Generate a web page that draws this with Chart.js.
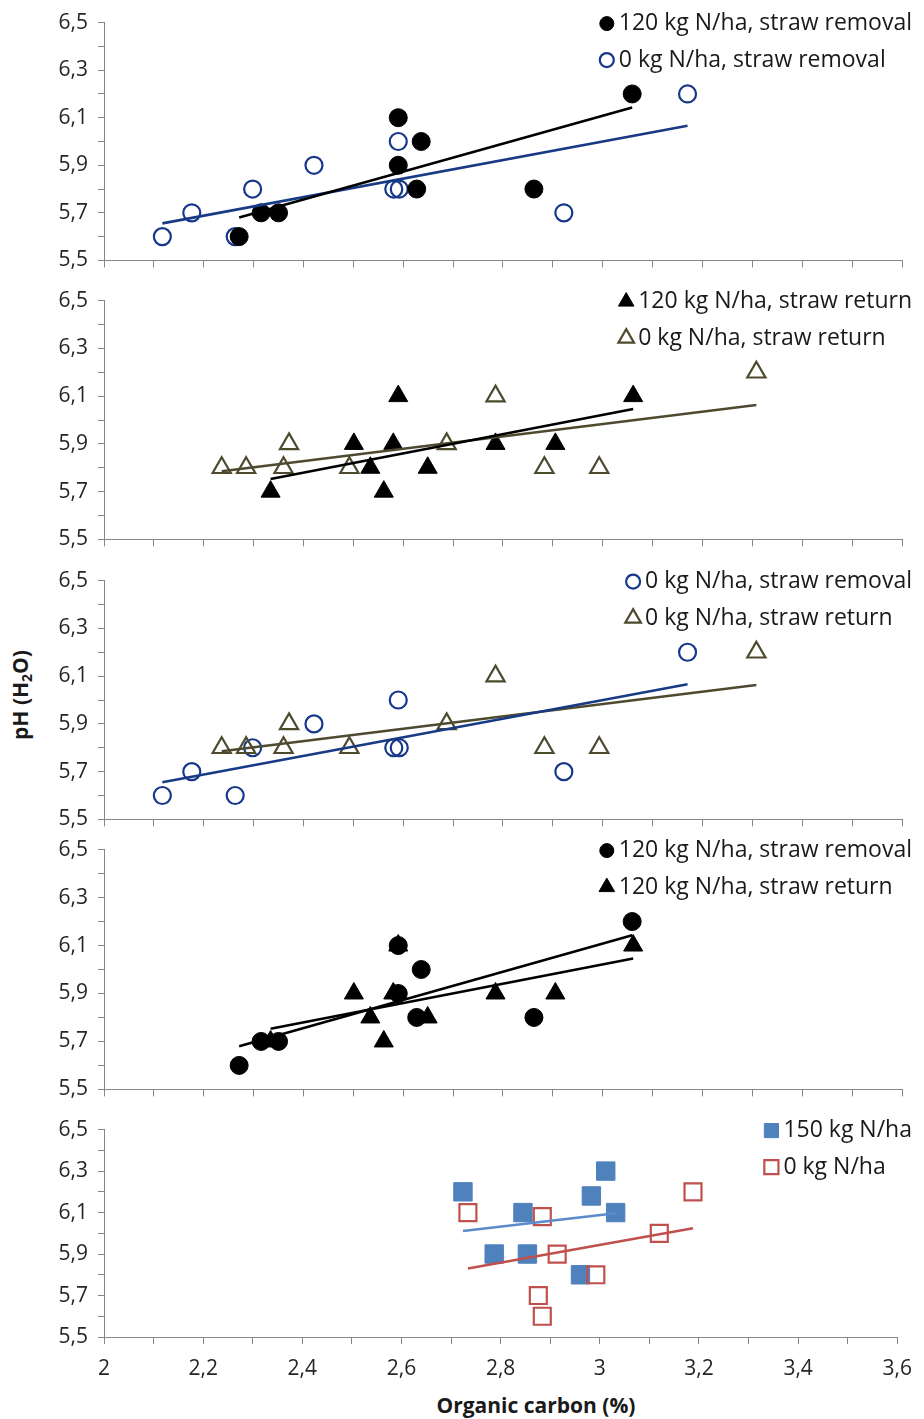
<!DOCTYPE html>
<html>
<head>
<meta charset="utf-8">
<script src="https://cdn.jsdelivr.net/npm/chart.js@4.4.0/dist/chart.umd.min.js"></script>
<style>
  body { margin: 0; background: #fff; width: 924px; height: 1419px; position: relative; overflow: hidden; font-family: "Open Sans", sans-serif; }
  .panel { position: absolute; left: 0; width: 924px; }
  .panel canvas { display: block; }
  #ytitle { position: absolute; left: 20px; top: 695px; transform: translate(-50%, -50%) rotate(-90deg); font: bold 21px "Open Sans"; white-space: nowrap; color: #1a1a1a; }
  #ytitle sub { font-size: 14px; vertical-align: -4px; line-height: 0; }
  #xtitle { position: absolute; left: 536px; top: 1405px; transform: translate(-50%, -50%); font: bold 21px "Open Sans"; white-space: nowrap; color: #1a1a1a; }
</style>
</head>
<body>
<div id="ytitle">pH (H<sub>2</sub>O)</div>
<div id="xtitle">Organic carbon (%)</div>

<script>
// organic carbon (%) and pH
const n120RemovalX = [2.271, 2.315, 2.35, 2.59, 2.59, 2.636, 2.627, 2.862, 3.059];
const n120RemovalY = [5.6, 5.7, 5.7, 6.1, 5.9, 6.0, 5.8, 5.8, 6.2];

const n0RemovalX = [2.117, 2.176, 2.263, 2.298, 2.421, 2.59, 2.581, 2.592, 2.922, 3.17];
const n0RemovalY = [5.6, 5.7, 5.6, 5.8, 5.9, 6.0, 5.8, 5.8, 5.7, 6.2];

const n120ReturnX = [2.334, 2.501, 2.534, 2.561, 2.58, 2.59, 2.649, 2.785, 2.905, 3.061];
const n120ReturnY = [5.7, 5.9, 5.8, 5.7, 5.9, 6.1, 5.8, 5.9, 5.9, 6.1];

const n0ReturnX = [2.236, 2.285, 2.371, 2.36, 2.492, 2.687, 2.785, 2.883, 2.993, 3.308];
const n0ReturnY = [5.8, 5.8, 5.9, 5.8, 5.8, 5.9, 6.1, 5.8, 5.8, 6.2];

const n150X = [2.724, 2.787, 2.845, 2.854, 2.961, 2.983, 3.012, 3.032];
const n150Y = [6.2, 5.9, 6.1, 5.9, 5.8, 6.18, 6.3, 6.1];

const n0X = [2.734, 2.884, 2.914, 2.992, 2.876, 2.884, 3.12, 3.188];
const n0Y = [6.1, 6.08, 5.9, 5.8, 5.7, 5.6, 6.0, 6.2];

const xMin = 2, xMax = 3.6;
const yMin = 5.5, yMax = 6.5;

const series = {
  n120Removal: { label: '120 kg N/ha, straw removal', x: n120RemovalX, y: n120RemovalY,
    style: 'circle', fill: '#000', stroke: '#000', bw: 1, r: 9, legR: 7, line: '#000' },
  n0Removal: { label: '0 kg N/ha, straw removal', x: n0RemovalX, y: n0RemovalY,
    style: 'circle', fill: 'rgba(0,0,0,0)', stroke: '#17378a', bw: 2.2, r: 8.5, legR: 7, line: '#183a86' },
  n120Return: { label: '120 kg N/ha, straw return', x: n120ReturnX, y: n120ReturnY,
    style: 'triangle', fill: '#000', stroke: '#000', bw: 1, r: 11, legR: 9, line: '#000' },
  n0Return: { label: '0 kg N/ha, straw return', x: n0ReturnX, y: n0ReturnY,
    style: 'triangle', fill: 'rgba(0,0,0,0)', stroke: '#4e4a2e', bw: 2.2, r: 10.5, legR: 9, line: '#4e4a30' },
  n150: { label: '150 kg N/ha', x: n150X, y: n150Y,
    style: 'rect', fill: '#4f81bd', stroke: '#4f81bd', bw: 1, r: 13, legR: 10, line: '#5a8ccc' },
  n0: { label: '0 kg N/ha', x: n0X, y: n0Y,
    style: 'rect', fill: 'rgba(0,0,0,0)', stroke: '#c0504d', bw: 2.2, r: 12, legR: 10, line: '#c0504d' },
};

// panel layout: canvas top, canvas height, x-axis box height
const panels = [
  { top: 0,    height: 283, axisH: 12, legend: ['n120Removal', 'n0Removal'], front: 'n120Removal' },
  { top: 278,  height: 284, axisH: 12, legend: ['n120Return', 'n0Return'], front: 'n120Return' },
  { top: 558,  height: 284, axisH: 12, legend: ['n0Removal', 'n0Return'], front: 'n0Return' },
  { top: 827,  height: 285, axisH: 12, legend: ['n120Removal', 'n120Return'], front: 'n120Removal' },
  { top: 1107, height: 312, axisH: 82, legend: ['n150', 'n0'], front: 'n0', xLabels: true },
];

function trend(xs, ys) {
  const n = xs.length;
  const mx = xs.reduce((a, b) => a + b, 0) / n;
  const my = ys.reduce((a, b) => a + b, 0) / n;
  let sxy = 0, sxx = 0;
  for (let i = 0; i < n; i++) {
    sxy += (xs[i] - mx) * (ys[i] - my);
    sxx += (xs[i] - mx) * (xs[i] - mx);
  }
  const b = sxy / sxx, a = my - b * mx;
  const x0 = Math.min(...xs), x1 = Math.max(...xs);
  return [{ x: x0, y: a + b * x0 }, { x: x1, y: a + b * x1 }];
}

function comma(v) {
  const t = Math.round(v * 10) / 10;
  return Number.isInteger(t) ? String(t) : t.toFixed(1).replace('.', ',');
}

const axisColor = '#868686';
const tickFont = { family: 'Open Sans', size: 21 };

// legend drawn inside the plot, top right
const cornerLegend = {
  id: 'cornerLegend',
  afterDraw(chart, args, opts) {
    const ctx = chart.ctx;
    const items = opts.items || [];
    ctx.save();
    ctx.font = '23px "Open Sans"';
    const maxW = Math.max(...items.map(s => ctx.measureText(s.label).width));
    const left = opts.right - maxW - 19;
    items.forEach((s, i) => {
      const y = chart.chartArea.top + 1 + i * 36.5;
      ctx.fillStyle = s.fill;
      ctx.strokeStyle = s.stroke;
      ctx.lineWidth = s.bw;
      Chart.helpers.drawPoint(ctx, { pointStyle: s.style, radius: s.legR, rotation: 0, borderWidth: s.bw }, left + 7, y);
      ctx.fillStyle = '#1a1a1a';
      ctx.textBaseline = 'middle';
      ctx.textAlign = 'left';
      ctx.fillText(s.label, left + 19, y);
    });
    ctx.restore();
  }
};

panels.forEach(p => {
  const div = document.createElement('div');
  div.className = 'panel';
  div.style.top = p.top + 'px';
  div.style.height = p.height + 'px';
  const canvas = document.createElement('canvas');
  canvas.width = 924;
  canvas.height = p.height;
  div.appendChild(canvas);
  document.body.appendChild(div);

  const keys = p.legend.slice().sort((a, b) => (a === p.front ? -1 : b === p.front ? 1 : 0));
  const datasets = [];
  // trend lines first so they sit on top
  p.legend.forEach(k => {
    const s = series[k];
    datasets.push({
      data: trend(s.x, s.y),
      showLine: true,
      borderColor: s.line,
      borderWidth: 2.6,
      pointRadius: 0,
    });
  });
  keys.forEach(k => {
    const s = series[k];
    datasets.push({
      label: s.label,
      data: s.x.map((x, i) => ({ x: x, y: s.y[i] })),
      pointStyle: s.style,
      pointRadius: s.r,
      backgroundColor: s.fill,
      borderColor: s.stroke,
      borderWidth: s.bw,
    });
  });

  new Chart(canvas.getContext('2d'), {
    type: 'scatter',
    data: { datasets: datasets },
    plugins: [cornerLegend],
    options: {
      responsive: false,
      animation: false,
      devicePixelRatio: 1,
      events: [],
      layout: { padding: { top: 20, right: 22, bottom: 0, left: 0 } },
      plugins: {
        legend: { display: false },
        tooltip: { enabled: false },
        cornerLegend: { items: p.legend.map(k => series[k]), right: 912 },
      },
      scales: {
        x: {
          type: 'linear',
          min: xMin, max: xMax,
          afterFit: s => { s.height = p.axisH; },
          grid: { drawOnChartArea: false, drawTicks: true, tickLength: 7, color: axisColor },
          border: { color: axisColor, width: 1 },
          ticks: {
            stepSize: 0.1,
            autoSkip: false,
            maxRotation: 0,
            padding: 12,
            color: '#262626',
            font: tickFont,
            callback: v => (p.xLabels && Math.round(v * 10) % 2 === 0) ? comma(v) : '',
          },
        },
        y: {
          type: 'linear',
          min: yMin, max: yMax,
          afterFit: s => { s.width = 104; },
          grid: { drawOnChartArea: false, drawTicks: true, tickLength: 6, color: axisColor },
          border: { color: axisColor, width: 1 },
          ticks: {
            stepSize: 0.1,
            autoSkip: false,
            padding: 10,
            color: '#262626',
            font: tickFont,
            callback: v => Math.round(v * 10) % 2 === 1 ? comma(v) : '',
          },
        },
      },
    },
  });
});
</script>
</body>
</html>
